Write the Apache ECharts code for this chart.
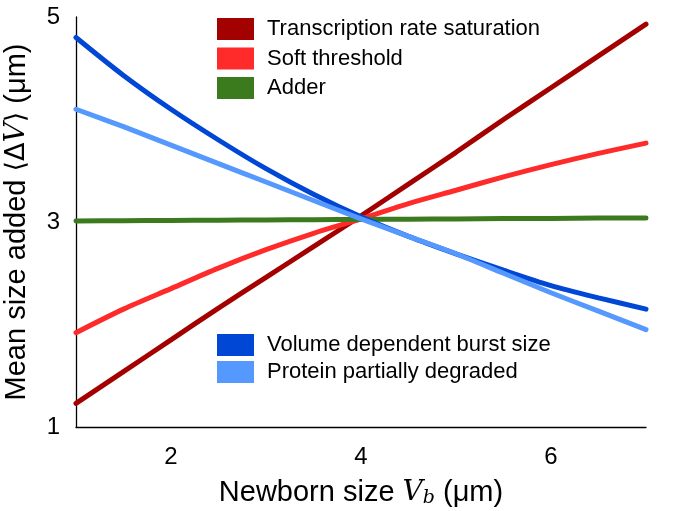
<!DOCTYPE html>
<html><head><meta charset="utf-8">
<script src="https://cdn.jsdelivr.net/npm/echarts@6/dist/echarts.min.js"></script>
<style>html,body{margin:0;padding:0;background:#fff}#c{width:675px;height:511px}</style>
</head><body><div id="c"></div>
<script>
const xTicks = [2, 4, 6];
const yTicks = [1, 3, 5];
const seriesNames = ['Transcription rate saturation', 'Soft threshold', 'Adder', 'Volume dependent burst size', 'Protein partially degraded'];
const colors = ['#a30000', '#ff2a2a', '#3c7a1e', '#0047d6', '#5599ff'];
const xVals = [1, 1.5, 2, 2.5, 3, 3.5, 4, 4.5, 5, 5.5, 6, 6.5, 7];
const transcription = [1.23, 1.54, 1.85, 2.16, 2.46, 2.76, 3.06, 3.37, 3.68, 4.00, 4.31, 4.62, 4.93];
const softThreshold = [1.92, 2.15, 2.35, 2.55, 2.73, 2.89, 3.03, 3.18, 3.31, 3.44, 3.56, 3.67, 3.77];
const adder = [3.01, 3.013, 3.015, 3.018, 3.02, 3.023, 3.025, 3.028, 3.03, 3.033, 3.035, 3.038, 3.04];
const burstSize = [4.80, 4.43, 4.10, 3.80, 3.52, 3.27, 3.05, 2.86, 2.69, 2.53, 2.38, 2.26, 2.15];
const degraded = [4.10, 3.93, 3.75, 3.57, 3.39, 3.21, 3.03, 2.86, 2.69, 2.50, 2.31, 2.13, 1.95];
const allData = [transcription, softThreshold, adder, burstSize, degraded];

const chart = echarts.init(document.getElementById('c'));
const font = 'Liberation Sans, Helvetica, Arial, sans-serif';
chart.setOption({
  animation: false,
  grid: {left: 76, right: 29, top: 17, bottom: 84, containLabel: false, outerBoundsMode: 'none'},
  legend: [
    {data: seriesNames.slice(0, 3), orient: 'vertical', left: 212, top: 13, icon: 'rect',
     itemWidth: 37, itemHeight: 22, itemGap: 7.5,
     textStyle: {fontFamily: font, fontSize: 22, color: '#000', padding: [0, 0, 0, 8]}},
    {data: seriesNames.slice(3), orient: 'vertical', left: 212, top: 329, icon: 'rect',
     itemWidth: 37, itemHeight: 22, itemGap: 5,
     textStyle: {fontFamily: font, fontSize: 22, color: '#000', padding: [0, 0, 0, 8]}}
  ],
  xAxis: {
    type: 'value', min: 1, max: 7,
    axisLine: {lineStyle: {color: '#000', width: 1.3}},
    axisTick: {show: false}, splitLine: {show: false},
    axisLabel: {customValues: xTicks, fontFamily: font, fontSize: 24, color: '#000', margin: 18},
    name: '{n|Newborn size }{v|V}{s|b}{n| (μm)}', nameLocation: 'middle', nameGap: 50,
    nameTextStyle: {rich: {
      n: {fontFamily: font, fontSize: 29, color: '#000'},
      v: {fontFamily: 'DejaVu Serif, serif', fontStyle: 'italic', fontSize: 28, color: '#000'},
      s: {fontFamily: 'DejaVu Serif, serif', fontStyle: 'italic', fontSize: 19, color: '#000', verticalAlign: 'bottom', padding: [12, 0, 0, 0]}
    }}
  },
  yAxis: {
    type: 'value', min: 1, max: 5,
    axisLine: {show: true, lineStyle: {color: '#000', width: 1.3}},
    axisTick: {show: false}, splitLine: {show: false},
    axisLabel: {customValues: yTicks, fontFamily: font, fontSize: 24, color: '#000', margin: 16},
    name: '{n|Mean size added }{m|⟨Δ}{v|V}{m|⟩}{n| (μm)}', nameLocation: 'middle', nameGap: 45, nameRotate: 90,
    nameTextStyle: {rich: {
      n: {fontFamily: font, fontSize: 29, color: '#000'},
      m: {fontFamily: 'DejaVu Sans, sans-serif', fontSize: 27, color: '#000'},
      v: {fontFamily: 'DejaVu Serif, serif', fontStyle: 'italic', fontSize: 28, color: '#000'}
    }}
  },
  series: seriesNames.map((n, i) => ({
    name: n, type: 'line', smooth: 0.3, symbol: 'none',
    data: xVals.map((x, j) => [x, allData[i][j]]),
    lineStyle: {color: colors[i], width: 5, cap: 'round'},
    itemStyle: {color: colors[i]}
  }))
});
</script></body></html>
